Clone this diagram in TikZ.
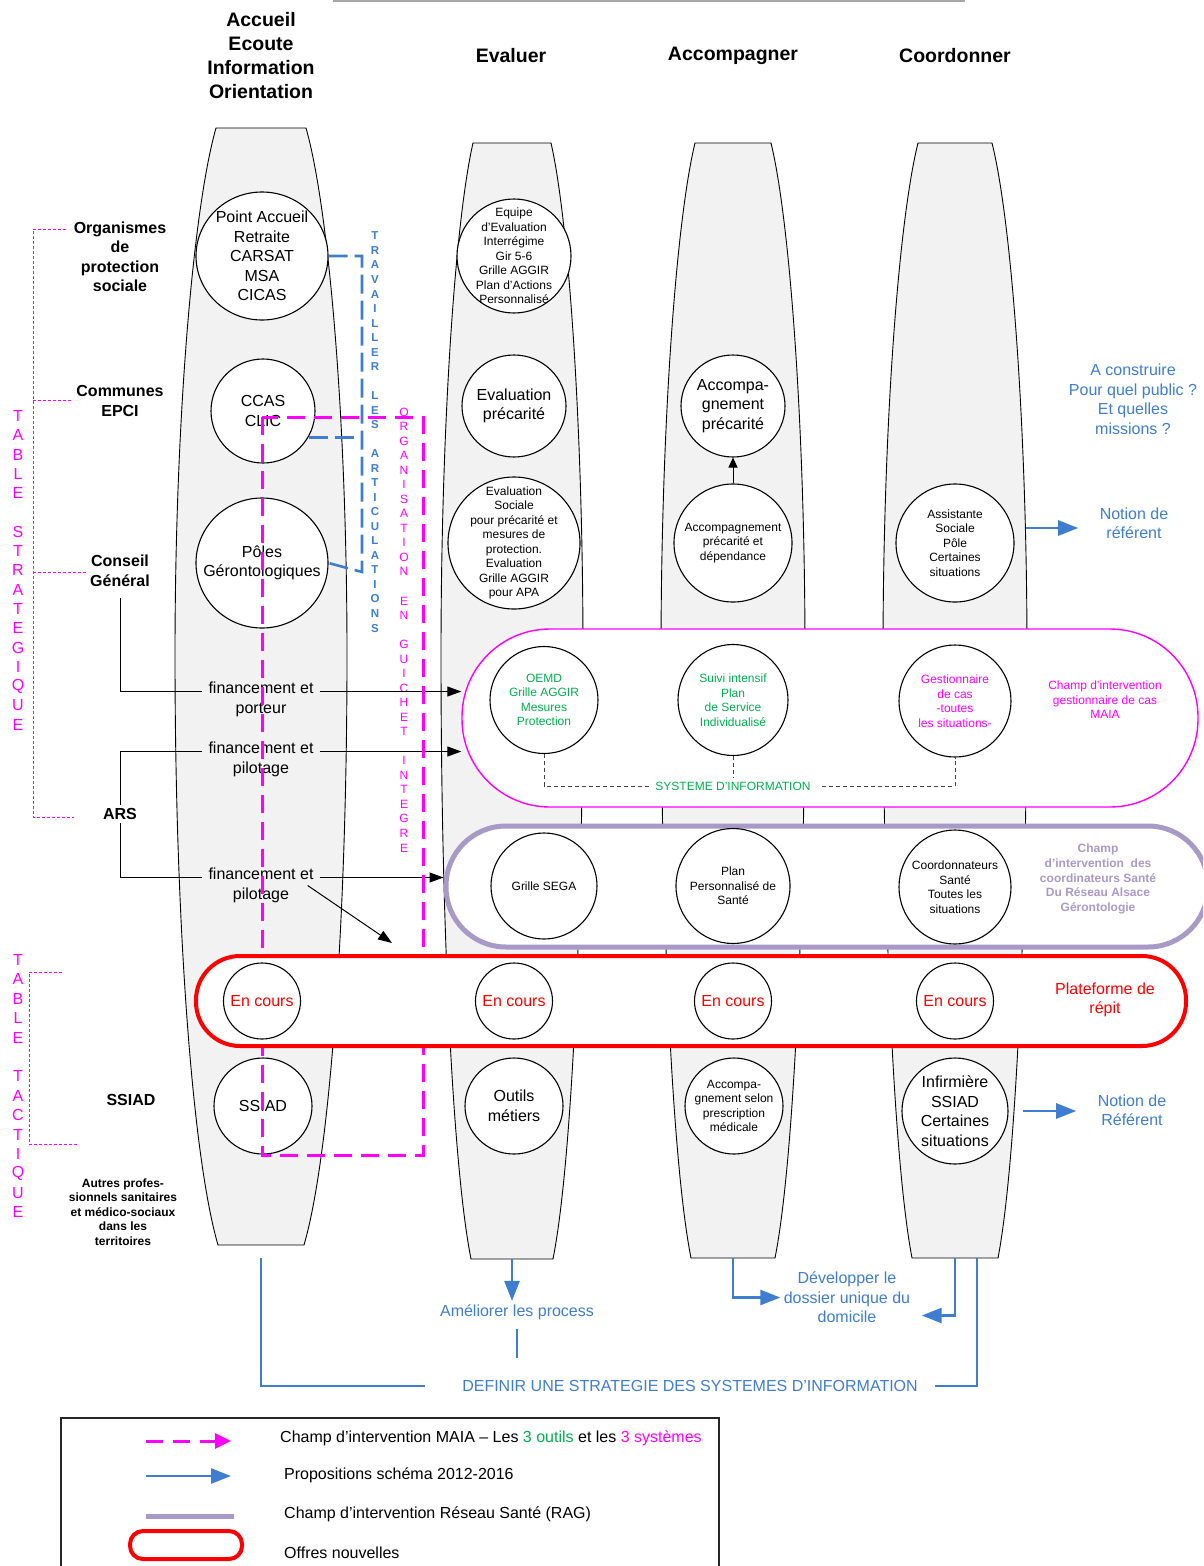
\documentclass[tikz,border=0pt]{standalone}
\usepackage{fontspec}
\setmainfont{Liberation Sans}
\usepackage{tikz}
\usetikzlibrary{shapes,arrows,arrows.meta,calc,positioning}
\definecolor{propblue}{RGB}{62,125,208}
\definecolor{maiagreen}{RGB}{0,176,80}
\definecolor{maiamag}{RGB}{255,0,255}
\definecolor{ragpurple}{RGB}{168,154,198}
\definecolor{pillargray}{RGB}{242,242,242}
\tikzset{
        pillar/.style = {draw, fill=pillargray, line width=0.9pt},
        bubble/.style 2 args = {draw, ellipse, fill=white, line width=1.1pt,
            inner sep=-30pt, align=center,
            minimum width=#1pt, minimum height=#2pt},
        bigtxt/.style = {font=\fontsize{16}{19.5}\selectfont, align=center},
        smalltxt/.style = {font=\fontsize{12}{14.5}\selectfont, align=center},
        smallbold/.style = {font=\fontsize{12}{14.6}\selectfont\bfseries, align=center},
        headtxt/.style = {font=\fontsize{19.5}{24}\selectfont\bfseries, align=center},
        sidetxt/.style = {font=\fontsize{16}{19.5}\selectfont\bfseries, align=center},
        band/.style = {draw, fill=white, rectangle},
        conn/.style = {draw, line width=1pt, -{Triangle[length=14pt,width=10pt]}},
        prop/.style = {draw=propblue, line width=2.6pt, -{Triangle[length=20pt,width=15pt]}},
        propline/.style = {draw=propblue, line width=2.6pt},
        articul/.style = {draw=propblue, line width=2.6pt, dash pattern=on 19pt off 7pt},
        maiadash/.style = {draw=maiamag, line width=3pt, dash pattern=on 18pt off 9pt},
        sysdash/.style = {draw=black!75, line width=1pt, dash pattern=on 4pt off 3pt},
        tablebracket/.style = {draw=maiamag, line width=1pt, dash pattern=on 3pt off 2pt},
        vletter/.style = {inner sep=0pt},
    }
% cx, top, bottom, top half width, middle half width, bottom half width, name
\newcommand{\drawpillar}[7]{%
    \filldraw[pillar]
        ({#1-#4},#2) -- ({#1+#4},#2)
        .. controls ({#1+#4+0.55*(#5-#4)},{#2+0.15*(655-#2)}) and ({#1+#5},{655-0.45*(655-#2)}) .. ({#1+#5},655)
        .. controls ({#1+#5},{655+0.45*(#3-655)}) and ({#1+#6+0.6*(#5-#6)},{#3-0.15*(#3-655)}) .. ({#1+#6},#3)
        -- ({#1-#6},#3)
        .. controls ({#1-#6-0.6*(#5-#6)},{#3-0.15*(#3-655)}) and ({#1-#5},{655+0.45*(#3-655)}) .. ({#1-#5},655)
        .. controls ({#1-#5},{655-0.45*(655-#2)}) and ({#1-#4-0.55*(#5-#4)},{#2+0.15*(655-#2)}) .. cycle;
    \coordinate (#7-top) at (#1,#2);
    \coordinate (#7-bot) at (#1,#3);
}

\begin{document}
\begin{tikzpicture}[x=1pt, y=-1pt]
    \path[clip, use as bounding box] (0,0) rectangle (1203,1566);
    \draw[gray!70, line width=2pt] (333,1) -- (965,1);

    % column titles
    \node[headtxt] (h-accueil) at (261,56) {Accueil\\Ecoute\\Information\\Orientation};
    \node[headtxt] (h-evaluer) at (511,56) {Evaluer};
    \node[headtxt] (h-accomp) at (733,56) {Accompagner};
    \node[headtxt] (h-coord) at (955,56) {Coordonner};

    \drawpillar{261}{128}{1245}{45}{86}{43}{colA}
    \drawpillar{512}{143}{1259}{39}{71}{41}{colB}
    \drawpillar{733}{143}{1258}{38}{72}{42}{colC}
    \drawpillar{955}{143}{1258}{37}{72}{43}{colD}

    % bands
    \node[band, draw=maiamag, line width=1.4pt, rounded corners=88pt,
        minimum width=736pt, minimum height=178pt] (maia) at (830,718) {};
    \node[band, draw=ragpurple, line width=5pt, rounded corners=60pt,
        minimum width=762pt, minimum height=121pt] (rag) at (827,886.5) {};

    % circles
    \node[bubble={132}{128}, bigtxt] (pointacc) at (262,256) {Point Accueil\\Retraite\\CARSAT\\MSA\\CICAS};
    \node[bubble={104}{104}, bigtxt] (ccas) at (263,411) {CCAS\\CLIC};
    \node[bubble={132}{130}, bigtxt] (poles) at (262,563) {Pôles\\Gérontologiques};
    \node[bubble={98}{96}, bigtxt] (ssiad) at (263,1106) {SSIAD};
    \node[bubble={114}{114}, smalltxt] (equipe) at (514,256) {Equipe\\d’Evaluation\\Interrégime\\Gir 5-6\\Grille AGGIR\\Plan d’Actions\\Personnalisé};
    \node[bubble={104}{102}, bigtxt] (evalprec) at (514,406) {Evaluation\\précarité};
    \node[bubble={132}{132}, smalltxt] (evalsoc) at (514,543) {Evaluation\\Sociale\\pour précarité et\\mesures de\\protection.\\Evaluation\\Grille AGGIR\\pour APA};
    \node[bubble={98}{96}, bigtxt] (outils) at (514,1106) {Outils\\métiers};
    \node[bubble={104}{102}, bigtxt] (accprec) at (733,406) {Accompa-\\gnement\\précarité};
    \node[bubble={118}{118}, smalltxt] (accdep) at (733,543) {Accompagnement\\précarité et\\dépendance};
    \node[bubble={98}{96}, smalltxt] (accmed) at (734,1106) {Accompa-\\gnement selon\\prescription\\médicale};
    \node[bubble={118}{118}, smalltxt] (assist) at (955,543) {Assistante\\Sociale\\Pôle\\Certaines\\situations};
    \node[bubble={106}{106}, bigtxt] (infirm) at (955,1111) {Infirmière\\SSIAD\\Certaines\\situations};

    \node[bubble={108}{107}, smalltxt, text=maiagreen] (oemd) at (544,700) {OEMD\\Grille AGGIR\\Mesures\\Protection};
    \node[bubble={110}{111}, smalltxt, text=maiagreen] (suivi) at (733,700) {Suivi intensif\\Plan\\de Service\\Individualisé};
    \node[bubble={112}{112}, smalltxt, text=maiamag] (gestion) at (955,701) {Gestionnaire\\de cas\\-toutes\\les situations-};
    \node[bubble={106}{106}, smalltxt] (sega) at (544,886) {Grille SEGA};
    \node[bubble={114}{115}, smalltxt] (pps) at (733,886) {Plan\\Personnalisé de\\Santé};
    \node[bubble={112}{114}, smalltxt] (coordsante) at (955,887) {Coordonnateurs\\Santé\\Toutes les\\situations};

    \node[smalltxt, text=maiamag] (maialbl) at (1105,700) {Champ d’intervention\\gestionnaire de cas\\MAIA};
    \node[smallbold, text=ragpurple] (raglbl) at (1098,879) {Champ\\d’intervention~ des\\coordinateurs Santé\\Du Réseau Alsace\\Gérontologie};

    \node[smalltxt, text=maiagreen] (sysinfo) at (733,786) {SYSTEME D’INFORMATION};
    \draw[sysdash] (oemd.south) |- (sysinfo.west);
    \draw[sysdash] (suivi.south) -- (suivi.south |- sysinfo.north);
    \draw[sysdash, shorten <=8pt] (sysinfo.east) -| (gestion.south);

    \draw[conn, -{Triangle[length=10pt,width=9pt]}] (accdep.north) -- (accprec.south);

    % left side
    \node[sidetxt] (orgs) at (120,257) {Organismes\\de\\protection\\sociale};
    \node[sidetxt] (communes) at (120,401) {Communes\\EPCI};
    \node[sidetxt] (cg) at (120,571) {Conseil\\Général};
    \node[sidetxt] (ars) at (120,814) {ARS};
    \node[sidetxt] (ssiadlbl) at (131,1100) {SSIAD};
    \node[smallbold] (autres) at (123,1212) {Autres profes-\\sionnels sanitaires\\et médico-sociaux\\dans les\\territoires};

    \draw[tablebracket] (66,229) -| (33,817) -- (74,817);
    \draw[tablebracket] (33,400) -- (71,400);
    \draw[tablebracket] (33,572) -- (87,572);
    \draw[tablebracket] (62,972) -| (29,1144) -- (77,1144);

    \foreach \ch [count=\i from 0] in {T,A,B,L,E,{},S,T,R,A,T,E,G,I,Q,U,E}
        \node[vletter, text=maiamag, font=\fontsize{16}{16}\selectfont] (strat-\i) at (18,{416+19.3*\i}) {\ch};
    \foreach \ch [count=\i from 0] in {T,A,B,L,E,{},T,A,C,T,I,Q,U,E}
        \node[vletter, text=maiamag, font=\fontsize{16}{16}\selectfont] (tact-\i) at (18,{960+19.4*\i}) {\ch};
    \foreach \ch [count=\i from 0] in {T,R,A,V,A,I,L,L,E,R,{},L,E,S,{},A,R,T,I,C,U,L,A,T,I,O,N,S}
        \node[vletter, text=propblue, font=\fontsize{11.5}{11.5}\selectfont\bfseries] (artic-\i) at (375,{236+14.52*\i}) {\ch};
    \foreach \ch [count=\i from 0] in {O,R,G,A,N,I,S,A,T,I,O,N,{},E,N,{},G,U,I,C,H,E,T,{},I,N,T,E,G,R,E}
        \node[vletter, text=maiamag, font=\fontsize{12}{12}\selectfont] (guich-\i) at (404,{412+14.53*\i}) {\ch};

    % funding links
    \node[bigtxt, inner sep=6pt] (fin1) at (261,699.5) {financement et\\porteur};
    \node[bigtxt, inner sep=6pt] (fin2) at (261,759.5) {financement et\\pilotage};
    \node[bigtxt, inner sep=6pt] (fin3) at (261,885.5) {financement et\\pilotage};
    \coordinate (fin1l) at ([yshift=8pt]fin1.west);
    \coordinate (fin1r) at ([yshift=8pt]fin1.east);
    \coordinate (fin2l) at ([yshift=8pt]fin2.west);
    \coordinate (fin2r) at ([yshift=8pt]fin2.east);
    \coordinate (fin3l) at ([yshift=8pt]fin3.west);
    \coordinate (fin3r) at ([yshift=8pt]fin3.east);
    \coordinate (diagtip) at (392,943);
    \draw[line width=1pt, shorten <=8pt] (cg.south) |- (fin1l);
    \draw[conn] (fin1r) -- (fin1r -| maia.west);
    \draw[line width=1pt] (ars.north) |- (fin2l);
    \draw[conn] (fin2r) -- (fin2r -| maia.west);
    \draw[line width=1pt] (ars.south) |- (fin3l);
    \draw[conn] (fin3r) -- (fin3r -| rag.west);
    \draw[conn] ([xshift=-12pt]fin3.east) -- (diagtip);

    % travailler les articulations
    \coordinate (artbot) at (362,572);
    \draw[articul] (pointacc.east) -| (artbot) -- (poles.east);
    \draw[articul] (ccas.-30) -- (ccas.-30 -| artbot);

    % guichet integre
    \coordinate (maiatl) at (262,417);
    \coordinate (maiabr) at (423,1155);
    \draw[maiadash] (maiatl) rectangle (maiabr);

    % plateforme de repit
    \node[band, draw=red, line width=4pt, rounded corners=44pt,
        minimum width=990pt, minimum height=90pt] (repit) at (691,1001) {};
    \foreach \cx [count=\i] in {262,514,733,955}
        \node[bubble={77}{76}, bigtxt, text=red] (encours-\i) at (\cx,1001) {En cours};
    \node[bigtxt, text=red] (repitlbl) at (1105,1000) {Plateforme de\\répit};

    % propositions
    \node[bigtxt, text=propblue] (construire) at (1133,399.5) {A construire\\Pour quel public ?\\Et quelles\\missions ?};
    \node[bigtxt, text=propblue] (referent1) at (1134,523.5) {Notion de\\référent};
    \node[bigtxt, text=propblue] (referent2) at (1132,1110.5) {Notion de\\Référent};
    \draw[prop] ($(assist.east)+(11,-15)$) -- ($(referent1.west)+(-18,4.5)$);
    \draw[prop] ($(infirm.east)+(14,0)$) -- ($(referent2.west)+(-18,0.5)$);

    \node[bigtxt, text=propblue] (ameliorer) at (517,1312) {Améliorer les process};
    \node[bigtxt, text=propblue] (developper) at (847,1297.5) {Développer le\\dossier unique du\\domicile};
    \node[bigtxt, text=propblue] (definir) at (690,1386) {DEFINIR UNE STRATEGIE DES SYSTEMES D’INFORMATION};
    \coordinate (colD-bot2) at ($(colD-bot)+(22,0)$);
    \draw[prop] (colB-bot) -- (colB-bot |- ameliorer.north);
    \draw[propline, shorten <=6pt, shorten >=19pt] (ameliorer.south) -- (ameliorer.south |- definir.north);
    \draw[prop] (colC-bot) |- (developper.west);
    \draw[prop, shorten >=8pt] (colD-bot) |- ($(developper.east)+(0,18)$);
    \draw[propline, shorten >=14pt] (colD-bot2) |- (definir.east);
    \draw[propline, shorten <=13pt, shorten >=34pt] (colA-bot) |- (definir.west);

    % legend
    \draw[black!85, line width=1.2pt] (61,1418) rectangle (719,1600);
    \node[bigtxt, anchor=west, inner sep=0pt] (lg-maia) at (280,1438) {Champ d’intervention MAIA – Les \textcolor{maiagreen}{3 outils} et les \textcolor{maiamag}{3 systèmes}};
    \node[bigtxt, anchor=west, inner sep=0pt] (lg-prop) at (284,1475) {Propositions schéma 2012-2016};
    \node[bigtxt, anchor=west, inner sep=0pt] (lg-rag) at (284,1514) {Champ d’intervention Réseau Santé (RAG)};
    \node[bigtxt, anchor=west, inner sep=0pt] (lg-new) at (284,1553) {Offres nouvelles};
    \draw[maiadash, dash pattern=on 17pt off 10pt, -{Triangle[length=16pt,width=15pt]}] (146,1441) -- (231,1441);
    \draw[prop] (146,1476) -- (231,1476);
    \draw[ragpurple, line width=5pt] (146,1516) -- (234,1516);
    \draw[red, line width=4pt, rounded corners=13pt] (130,1531) rectangle (242,1559);
\end{tikzpicture}
\end{document}
